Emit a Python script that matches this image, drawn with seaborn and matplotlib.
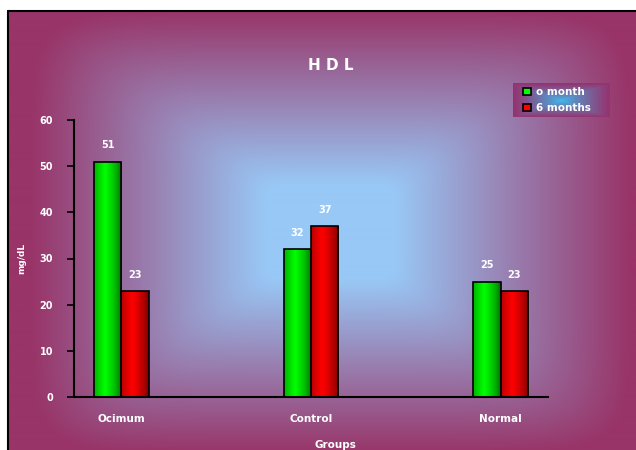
import numpy as np
import pandas as pd
import matplotlib
matplotlib.use("Agg")
import matplotlib.pyplot as plt
import seaborn as sns
from matplotlib.patches import Patch
from matplotlib.lines import Line2D

# ---- data ----
groups = ["Ocimum", "Control", "Normal"]
slots = ["Ocimum", " ", "Control", "  ", "Normal"]
series = ["o month", "6 months"]
month0 = [51, 32, 25]
month6 = [23, 37, 23]
yticks = [0, 10, 20, 30, 40, 50, 60]

df = pd.DataFrame({
    "Group": groups * 2,
    "Period": [series[0]] * 3 + [series[1]] * 3,
    "HDL": month0 + month6,
})

sns.set_theme(style="white")
plt.rcParams["font.family"] = ["DejaVu Sans"]

W, H = 636, 450
fig = plt.figure(figsize=(W / 100, H / 100), dpi=100)
fig.patch.set_facecolor("white")

def fx(px):
    return px / W

def fy(py):
    return 1 - py / H

# ---- background gradient (rectangular, from center) ----
bx0, by0 = 8, 11
ext = 20
bg = fig.add_axes([fx(bx0), -ext / H, fx(W - bx0 + ext), (H - by0 + ext) / H], zorder=0)
nw, nh = W - bx0 + ext, H - by0 + ext
xx, yy = np.meshgrid(np.arange(nw), np.arange(nh))
cx, cy = 330 - bx0, 232 - by0
hw, hh = 325.0, 240.0
u = np.abs(xx - cx) / hw
v = np.abs(yy - cy) / hh
p = 8.0
t = (u ** p + v ** p) ** (1 / p)
f = np.clip((t - 0.2) / 0.72, 0, 1)
edge = np.array([153, 52, 104]) / 255
center = np.array([152, 200, 246]) / 255
img = center[None, None, :] * (1 - f[..., None]) + edge[None, None, :] * f[..., None]
bg.imshow(img, aspect="auto", extent=[0, 1, 0, 1], origin="upper", interpolation="bilinear")
bg.set_xticks([]); bg.set_yticks([])
for s in bg.spines.values():
    s.set_visible(False)
fig.add_artist(Line2D([fx(bx0), fx(bx0)], [0, fy(by0)], color="black", linewidth=1.5, zorder=5))
fig.add_artist(Line2D([fx(bx0), 1.0], [fy(by0), fy(by0)], color="black", linewidth=1.5, zorder=5))

# ---- main axes ----
ax = fig.add_axes([fx(74), 53 / H, fx(548 - 74), (397 - 120) / H], zorder=2)
ax.set_facecolor("none")
pal = {series[0]: "#00ff00", series[1]: "#ff0000"}
sns.barplot(data=df, x="Group", y="HDL", hue="Period", order=slots,
            hue_order=series, palette=pal, width=0.58, gap=0,
            edgecolor="black", linewidth=1.2, saturation=1, ax=ax, legend=False)

# horizontal shading inside the bars
dark = {series[0]: np.array([0, 0.35, 0]), series[1]: np.array([0.4, 0, 0])}
bright = {series[0]: np.array([0, 1, 0]), series[1]: np.array([1, 0, 0])}
for cont, name in zip(ax.containers, series):
    for pt in cont:
        x0, w = pt.get_x(), pt.get_width()
        h = pt.get_height()
        if not np.isfinite(h) or h == 0:
            continue
        s = np.linspace(0, 1, 64)
        prof = np.clip(1 - np.abs(s - 0.4) / 0.6, 0, 1) ** 0.6
        col = dark[name][None, :] * (1 - prof[:, None]) + bright[name][None, :] * prof[:, None]
        im = ax.imshow(col[None, :, :], aspect="auto", extent=[x0, x0 + w, 0, h],
                       zorder=pt.get_zorder() - 0.1, interpolation="bilinear")
        im.set_clip_path(pt)
        pt.set_facecolor("none")
        pt.set_zorder(pt.get_zorder() + 0.2)
    ax.bar_label(cont, padding=8, color="white", fontsize=7, fontweight="bold")

ax.set_xlim(-0.5, 4.5)
ax.set_ylim(0, 60)
ax.set_yticks(yticks)
ax.set_xticks(range(5))
ax.set_xticklabels(slots)
ax.set_xticks(np.arange(-0.5, 5, 1), minor=True)
ax.tick_params(axis="x", which="major", length=0, pad=12, labelsize=7.5, labelcolor="white")
ax.tick_params(axis="x", which="minor", length=5, width=1.2, color="black", direction="out")
ax.tick_params(axis="y", length=5, width=1.2, color="black", direction="out",
               labelsize=7, labelcolor="white", pad=10, left=True)
for lab in ax.get_xticklabels() + ax.get_yticklabels():
    lab.set_fontweight("bold")
for s in ["top", "right"]:
    ax.spines[s].set_visible(False)
for s in ["left", "bottom"]:
    ax.spines[s].set_color("black")
    ax.spines[s].set_linewidth(1.5)
ax.set_xlabel("")
ax.set_ylabel("")

fig.text(fx(335), fy(445), "Groups", ha="center", va="center", color="white",
         fontsize=7.5, fontweight="bold")
fig.text(fx(22), fy(258), "mg/dL", ha="center", va="center", color="white",
         fontsize=6.5, fontweight="bold", rotation=90)
fig.text(fx(331), fy(66), "H D L", ha="center", va="center", color="white",
         fontsize=11, fontweight="bold")

# ---- legend with its own gradient box ----
lx0, lx1, ly0, ly1 = 513, 610, 83, 117
lax = fig.add_axes([fx(lx0), fy(ly1), fx(lx1 - lx0), (ly1 - ly0) / H], zorder=3)
lw, lh = 97, 34
gx, gy = np.meshgrid(np.arange(lw), np.arange(lh))
lu = np.abs(gx - 48) / 48
lv = np.abs(gy - 17) / 17
lt = np.clip(np.maximum(lu, lv), 0, 1) ** 0.8
lc = np.array([60, 190, 240]) / 255
le = np.array([150, 50, 110]) / 255
limg = lc[None, None, :] * (1 - lt[..., None]) + le[None, None, :] * lt[..., None]
lax.imshow(limg, aspect="auto", extent=[0, 1, 0, 1], interpolation="bilinear")
lax.set_xticks([]); lax.set_yticks([])
for s in lax.spines.values():
    s.set_visible(False)
handles = [Patch(facecolor=pal[n], edgecolor="black", linewidth=1.2, label=n) for n in series]
leg = lax.legend(handles=handles, loc="center left", bbox_to_anchor=(0.1, 0.5),
                 frameon=False, fontsize=7.5,
                 handlelength=0.75, handleheight=0.7, handletextpad=0.5,
                 labelspacing=0.55, borderaxespad=0, borderpad=0)
for txt in leg.get_texts():
    txt.set_color("white")
    txt.set_fontweight("bold")

fig.savefig("out.png", dpi=100)
